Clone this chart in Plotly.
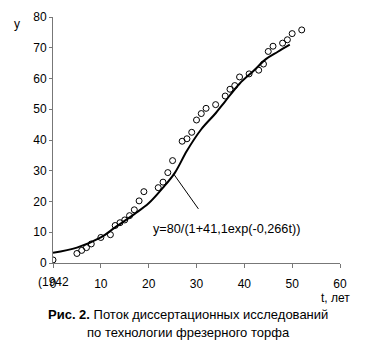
import plotly.graph_objects as go

# observed data points (t, years since 1942; y, count)
t_obs = [0, 5, 6, 7, 8, 10, 12, 13, 14, 15, 16, 17, 18, 19, 22, 23, 24, 25,
         27, 28, 29, 30, 31, 32, 34, 36, 37, 38, 39, 41, 43, 44, 45, 46, 48, 49, 50, 52]
y_obs = [1.0, 3.1, 4.1, 5.0, 6.2, 8.3, 9.2, 12.2, 13.1, 14.0, 15.4, 17.3, 20.2, 23.2,
         24.5, 26.3, 29.4, 33.3, 39.6, 40.4, 42.5, 46.5, 48.6, 50.3, 51.5, 54.3, 56.5,
         57.7, 60.5, 61.5, 62.7, 64.7, 68.8, 70.5, 71.5, 72.6, 74.6, 75.8]

# fitted curve
t_fit = [0, 5, 10, 13, 17, 20, 23, 25.5, 28, 31, 34, 36, 39, 42, 44.5, 47, 49.5]
y_fit = [3.3, 5.0, 8.3, 11.6, 15.9, 19.4, 24.5, 29.4, 36.5, 43.5, 48.7, 52.6,
         58.3, 62.6, 66.3, 68.7, 71.0]

x_ticks = [0, 10, 20, 30, 40, 50, 60]
y_ticks = [0, 10, 20, 30, 40, 50, 60, 70, 80]

FONT = "Arial, Liberation Sans, sans-serif"

L, R, T, B = 53, 37, 10, 90
W, H = 377, 353
pw = W - L - R
ph = H - T - B


def px(x):
    return (x - L) / pw


def py(y):
    return (H - B - y) / ph


fig = go.Figure()
fig.add_trace(go.Scatter(x=t_fit, y=y_fit, mode="lines", line=dict(color="black", width=2),
                         line_shape="spline", showlegend=False, hoverinfo="skip"))
fig.add_trace(go.Scatter(x=t_obs, y=y_obs, mode="markers",
                         marker=dict(symbol="circle-open", size=6, color="black",
                                     line=dict(width=1, color="black")),
                         showlegend=False))

# leader line for formula
fig.add_shape(type="line", x0=25.2, y0=29.0, x1=30.4, y1=17.6,
              line=dict(color="black", width=1), xref="x", yref="y")
fig.add_annotation(x=36.2, y=11, xref="x", yref="y", text="y=80/(1+41,1exp(-0,266t))",
                   xanchor="center", yanchor="middle",
                   showarrow=False, font=dict(family=FONT, size=12.7, color="black"))

# "(1942" under the zero tick
fig.add_annotation(x=0, y=0, xref="x", yref="y", yshift=-19, text="(1942",
                   xanchor="center", yanchor="middle",
                   showarrow=False, font=dict(family=FONT, size=12, color="black"))

fig.add_annotation(x=px(17), y=py(17), xref="paper", yref="paper", text="y",
                   xanchor="center", yanchor="middle", showarrow=False,
                   font=dict(family=FONT, size=12, color="black"))

fig.add_annotation(x=px(335), y=py(299), xref="paper", yref="paper",
                   xanchor="center", yanchor="middle",
                   text="t, лет", showarrow=False, font=dict(family=FONT, size=12))
fig.add_annotation(x=px(188), y=py(316), xref="paper", yref="paper",
                   xanchor="center", yanchor="middle",
                   text="<b>Рис. 2.</b> Поток диссертационных исследований",
                   showarrow=False, font=dict(family=FONT, size=13))
fig.add_annotation(x=px(188), y=py(334), xref="paper", yref="paper",
                   xanchor="center", yanchor="middle",
                   text="по технологии фрезерного торфа",
                   showarrow=False, font=dict(family=FONT, size=13))

fig.update_layout(
    width=W, height=H,
    margin=dict(l=L, r=R, t=T, b=B),
    plot_bgcolor="white", paper_bgcolor="white",
    font=dict(family=FONT, size=12, color="black"),
    xaxis=dict(range=[0, 60], tickvals=x_ticks, ticktext=["0", "10", "20", "30", "40", "50", "60"],
               showgrid=False, zeroline=False, showline=True, linecolor="#777", linewidth=1,
               ticks="outside", ticklen=4, tickcolor="#777", ticklabelstandoff=6),
    yaxis=dict(range=[0, 80], tickvals=y_ticks, showgrid=False, zeroline=False,
               showline=True, linecolor="#777", linewidth=1,
               ticks="outside", ticklen=3, tickcolor="#777"),
)

fig.write_html("out.html")
